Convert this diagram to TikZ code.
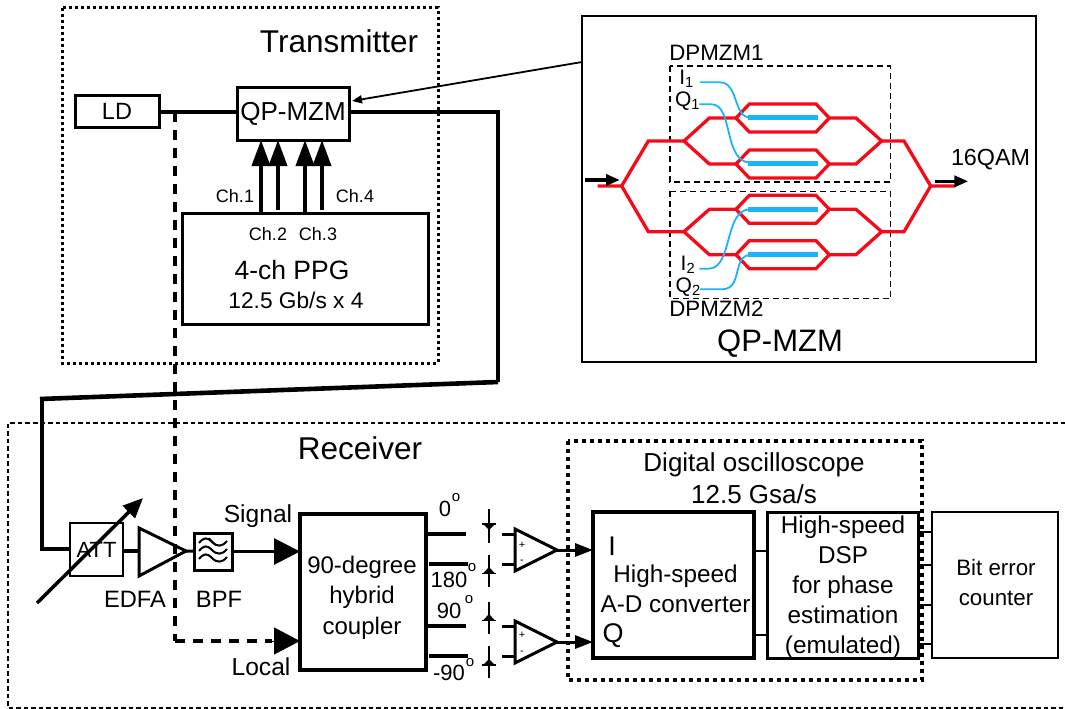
\documentclass[tikz,border=0pt]{standalone}
\usepackage{fontspec}
\setmainfont{Liberation Sans}
\usetikzlibrary{arrows.meta}
\newcommand{\fsz}[2]{\fontsize{#1}{#2}\selectfont}
\tikzset{
 lbl/.style={inner sep=0pt,outer sep=0pt,align=center},
 blk/.style={draw=black,inner sep=0pt,outer sep=0pt,align=center,fill=white},
 fib/.style={line width=4pt,line cap=butt,line join=miter},
 wire/.style={line width=3.5pt},
 tdot/.style={line width=3pt,dash pattern=on 3pt off 3pt},
 rdot/.style={line width=1.8pt,dash pattern=on 4.5pt off 3pt},
 odot/.style={line width=4pt,dash pattern=on 4pt off 4pt},
 lo/.style={line width=3.6pt,dash pattern=on 10pt off 8pt},
 chan/.style={line width=3.8pt,-{Triangle[length=26pt,width=18pt]}},
 big/.style={line width=3pt,-{Triangle[length=26pt,width=26pt]}},
 small/.style={line width=3pt,-{Triangle[length=18pt,width=13pt]}},
 red/.style={draw={rgb,255:red,245;green,10;blue,25},line width=3.3pt,line join=miter},
 bluebar/.style={draw={rgb,255:red,25;green,180;blue,250},line width=5pt},
 bluethin/.style={draw={rgb,255:red,25;green,180;blue,250},line width=1.8pt},
 pd/.style={line width=1.2pt},
 pdash/.style={line width=1.6pt,dash pattern=on 6pt off 4pt},
}
\begin{document}
\begin{tikzpicture}[x=1pt,y=-1pt]
\useasboundingbox (0,0) rectangle (1065,709);
% frames
\draw[tdot] (62,8) rectangle (438,363);
\draw[rdot] (1065,423) -- (8,423) -- (8,708) -- (1065,708);
\draw[odot] (568,441) rectangle (922,680);
\node[lbl,font=\fsz{31.5}{31}] (ttx) at (339,41) {Transmitter};
\node[lbl,font=\fsz{31.5}{31}] (trx) at (360,448) {Receiver};
\node[lbl,font=\fsz{26}{32}] (tosc) at (754,478) {Digital oscilloscope\\12.5 Gsa/s};
% transmitter
\coordinate (tap) at (175,112);
\coordinate (tapb) at (175,641);
\coordinate (t1) at (498,112);
\coordinate (t2) at (498,382);
\coordinate (t3) at (40,399);
\coordinate (t3b) at (42,399);
\coordinate (t4) at (42,549);
\node[blk,line width=3pt,minimum width=84pt,minimum height=32pt,font=\fsz{23.5}{24}] (ld) at (117,111) {LD};
\node[blk,line width=3pt,minimum width=112pt,minimum height=53pt,font=\fsz{26}{26}] (qp) at (293,113.5) {QP-MZM};
\node[blk,line width=3pt,minimum width=246pt,minimum height=111pt] (ppg) at (305,268.5) {};
\node[lbl,font=\fsz{18}{18}] (c1) at (235,196) {Ch.1};
\node[lbl,font=\fsz{18}{18}] (c4) at (355,196) {Ch.4};
\node[lbl,font=\fsz{18}{18}] (c2) at (268,234) {Ch.2};
\node[lbl,font=\fsz{18}{18}] (c3) at (318,234) {Ch.3};
\node[lbl,font=\fsz{26.5}{27}] (ppgt) at (292,270) {4-ch PPG};
\node[lbl,font=\fsz{22.7}{23}] (ppgr) at (296,300) {12.5 Gb/s x 4};
\coordinate (a1) at (261,213); \coordinate (b1) at (261,140);
\coordinate (a2) at (278,210); \coordinate (b2) at (278,140);
\coordinate (a3) at (305,213); \coordinate (b3) at (305,140);
\coordinate (a4) at (322,210); \coordinate (b4) at (322,140);
\draw[chan] (a1) -- (b1);
\draw[chan] (a2) -- (b2);
\draw[chan] (a3) -- (b3);
\draw[chan] (a4) -- (b4);
\draw[wire] (ld.east |- tap) -- (qp.west |- tap);
% panel
\node[draw=black,line width=2.4pt,inner sep=0pt,outer sep=0pt,minimum width=454pt,minimum height=346pt] (panel) at (809,189) {};
\coordinate (pa) at (582,62);
\coordinate (pb) at (352,101);
\draw[line width=1.8pt,-{Triangle[length=10pt,width=8pt]}] (pa) -- (pb);
\begin{scope}[shift={(580,10)},x=0.33333pt,y=-0.33333pt]
\draw[pdash] (270,168) rectangle (932,516);
\draw[pdash] (270,544) rectangle (932,866);
\draw[red] (53,528) -- (125,528) -- (205,393) -- (312,393);
\draw[red] (125,528) -- (205,665) -- (312,665);
\draw[red] (905,393) -- (972,393) -- (1052,528) -- (1125,528);
\draw[red] (905,665) -- (972,665) -- (1052,528);
\foreach \c/\u/\l in {393/324/462,665/598/734}{
 \draw[red] (312,\c) -- (388,\u) -- (468,\u);
 \draw[red] (312,\c) -- (388,\l) -- (468,\l);
 \draw[red] (748,\u) -- (828,\u) -- (905,\c) -- (828,\l) -- (748,\l);
 \foreach \y in {\u,\l}{
  \draw[red] (468,\y) -- ++(40,-42) -- ++(200,0) -- ++(40,42) -- ++(-40,42) -- ++(-200,0) -- cycle;
 }
}
\foreach \y in {324,462,598,734}{\draw[bluebar] (505,\y) -- (713,\y);}
\draw[bluethin] (360,217) -- (420,217) .. controls (475,217) and (460,320) .. (508,322);
\draw[bluethin] (358,283) -- (395,283) .. controls (460,283) and (430,455) .. (510,458);
\draw[bluethin] (358,776) -- (385,776) .. controls (460,776) and (430,600) .. (510,598);
\draw[bluethin] (360,838) -- (425,838) .. controls (490,838) and (455,738) .. (510,735);
\draw[line width=3.5pt,-{Triangle[length=14pt,width=11pt]}] (15,510) -- (120,510);
\draw[line width=3.5pt,-{Triangle[length=14pt,width=11pt]}] (1065,514) -- (1165,514);
\node[lbl,anchor=west,font=\fsz{22.3}{22}] (dp1) at (268,127) {DPMZM1};
\node[lbl,anchor=west,font=\fsz{22.3}{22}] (dp2) at (268,897) {DPMZM2};
\node[lbl,anchor=west,font=\fsz{23.3}{23}] (qam) at (1113,450) {16QAM};
\node[lbl,font=\fsz{31}{31}] (pqp) at (600,1002) {QP-MZM};
\node[lbl,anchor=west,font=\fsz{21}{21}] (i1) at (298,207) {I\textsubscript{1}};
\node[lbl,anchor=west,font=\fsz{21}{21}] (q1) at (285,272) {Q\textsubscript{1}};
\node[lbl,anchor=west,font=\fsz{21}{21}] (i2) at (302,764) {I\textsubscript{2}};
\node[lbl,anchor=west,font=\fsz{21}{21}] (q2) at (287,832) {Q\textsubscript{2}};
\end{scope}
% receiver front end
\node[blk,line width=2pt,minimum width=53pt,minimum height=53pt,font=\fsz{22}{22}] (att) at (96.5,549.5) {ATT};
\draw[fib] (qp.east |- t1) -- (t1) -- (t2);
\draw[line width=4.6pt] (t2) -- (t3);
\draw[fib] (t3b) -- (t4) -- (att.west |- t4);
\draw[lo] (tap) -- (tapb);
\coordinate (e1) at (139,528); \coordinate (e2) at (139,576); \coordinate (e3) at (186,551);
\draw[wire] (att.east |- e3) -- (e1 |- e3);
\node[blk,line width=3pt,minimum width=38pt,minimum height=37pt] (bpf) at (213,551.5) {};
\node[blk,line width=4.5pt,minimum width=126pt,minimum height=156pt] (hyb) at (363,592) {};
\node[lbl,font=\fsz{24}{30.5}] (hybt) at (362,597.5) {90-degree\\hybrid\\coupler};
\draw[line width=3pt] (e3) -- (bpf);
\draw[line width=3pt,line join=miter] (e1) -- (e3) -- (e2) -- cycle;
\foreach \y in {543,551,559}{
 \draw[line width=2pt] (199,\y) .. controls (204,\y-6) and (207,\y-6) .. (212,\y-1) .. controls (217,\y+4) and (222,\y+4) .. (227,\y-2);
}
\draw[line width=1.2pt] (209,538) -- (216,545);
\draw[big] (bpf) -- (hyb.west |- bpf);
\coordinate (lob) at (272,641);
\draw[lo] (tapb) -- (lob);
\draw[line width=1pt,-{Triangle[length=26pt,width=27pt]}] (lob) -- (lob -| hyb.west);
\coordinate (diag1) at (37,603); \coordinate (diag2) at (143,498);
\draw[line width=3.5pt,-{Triangle[length=20pt,width=17pt]}] (diag1) -- (diag2);
\node[lbl,font=\fsz{23.7}{24}] (tedfa) at (135,599) {EDFA};
\node[lbl,font=\fsz{23.7}{24}] (tbpf) at (219,599) {BPF};
\node[lbl,font=\fsz{24.6}{25}] (tsig) at (258,516) {Signal};
\node[lbl,font=\fsz{24.6}{25}] (tloc) at (261,667) {Local};
% hybrid outputs
\foreach \xa/\xb/\y in {426/466/534,429/468/564,426/466/626,429/468/656}{
 \draw[line width=4.5pt] (\xa,\y) -- (\xb,\y);
}
\node[lbl,font=\fsz{22}{22}] (d0) at (445,509) {0};
\node[lbl,font=\fsz{22}{22}] (d180) at (449,580) {180};
\node[lbl,font=\fsz{22}{22}] (d90) at (449,611) {90};
\node[lbl,font=\fsz{22}{22}] (d270) at (449,673) {-90};
\node[lbl,font=\fsz{15}{15}] (o0) at (456,498) {o};
\node[lbl,font=\fsz{15}{15}] (o180) at (472,568) {o};
\node[lbl,font=\fsz{15}{15}] (o90) at (469,600) {o};
\node[lbl,font=\fsz{15}{15}] (o270) at (470,663) {o};
% photodiodes
\draw[pd] (489,509) -- (489,543);
\draw[pd] (482,524) -- (496,524);
\fill (483,524) -- (495,524) -- (489,530) -- cycle;
\draw[pd] (489,555) -- (489,587);
\draw[pd] (482,573.5) -- (496,573.5);
\fill (483,573.5) -- (495,573.5) -- (489,567) -- cycle;
\draw[pd] (489,602) -- (489,634);
\draw[pd] (482,620.5) -- (496,620.5);
\fill (483,620.5) -- (495,620.5) -- (489,614) -- cycle;
\draw[pd] (489,646) -- (489,678);
\draw[pd] (482,665) -- (496,665);
\fill (483,665) -- (495,665) -- (489,659) -- cycle;
% amplifiers
\foreach \c/\ya/\yb/\yc/\yd in {550/534/564/529/571,642/626/656/621/663}{
 \draw[line width=3pt] (502,\ya) -- (515,\ya);
 \draw[line width=3pt] (502,\yb) -- (515,\yb);
 \draw[line width=3pt,line join=miter] (515,\yc) -- (557,\c) -- (515,\yd) -- cycle;
}
\node[lbl,font=\fsz{11}{11}] (pu) at (522,545) {+};
\node[lbl,font=\fsz{11}{11}] (mu) at (522,562) {-};
\node[lbl,font=\fsz{11}{11}] (pl) at (522,635) {+};
\node[lbl,font=\fsz{11}{11}] (ml) at (522,653) {-};
% back end
\node[blk,line width=4.5pt,minimum width=161pt,minimum height=146pt] (ad) at (673.5,585) {};
\node[lbl,font=\fsz{24.3}{30}] (adt) at (675.5,589) {High-speed\\A-D converter};
\node[lbl,font=\fsz{27}{27}] (ti) at (612,546) {I};
\node[lbl,font=\fsz{27}{27}] (tq) at (613,636) {Q};
\coordinate (au) at (557,550); \coordinate (al) at (557,642);
\draw[small] (au) -- (au -| ad.west);
\draw[small] (al) -- (al -| ad.west);
\node[blk,line width=3pt,minimum width=151pt,minimum height=146pt] (dsp) at (842.5,585) {};
\node[lbl,font=\fsz{24.3}{30}] (dspt) at (843,587) {High-speed\\DSP\\for phase\\estimation\hspace{11pt}\\(emulated)};
\node[blk,line width=2pt,minimum width=126pt,minimum height=146pt] (cnt) at (995,585) {};
\node[lbl,font=\fsz{22.3}{30}] (cntt) at (996,583) {Bit error\\counter};
\foreach \y in {551,635}{\draw[line width=2.5pt] (ad.east |- 0,\y) -- (dsp.west |- 0,\y);}
\foreach \y in {532,565,605,644}{\draw[line width=2.5pt] (dsp.east |- 0,\y) -- (cnt.west |- 0,\y);}
\end{tikzpicture}
\end{document}
